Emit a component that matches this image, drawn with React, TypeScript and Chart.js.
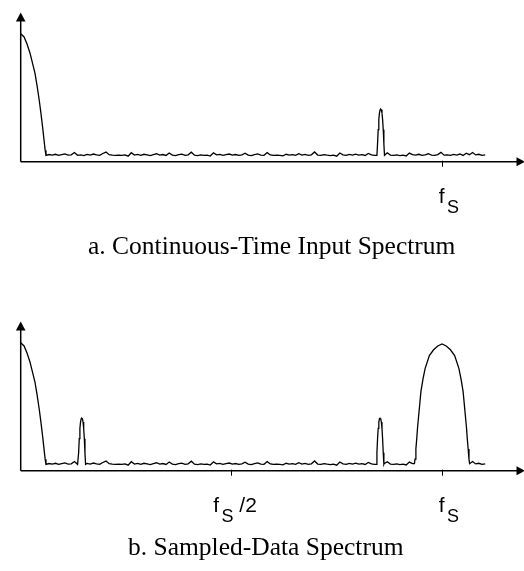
import React, { useEffect, useRef } from "react";
import { Chart, registerables } from "chart.js";
Chart.register(...registerables);

// ---------- data (frequency in units of fs, amplitude relative to main lobe) ----------
const X_MAX = 1.1946;
const Y_MAX = 1.162;

const LOBE_F = [0, 0.008, 0.015, 0.022, 0.028, 0.034, 0.039, 0.044, 0.048, 0.052, 0.055, 0.058, 0.06];
const LOBE_A = [1.0, 0.975, 0.92, 0.85, 0.77, 0.69, 0.59, 0.48, 0.38, 0.27, 0.18, 0.09, 0.055];

const HUMP_DF = [0, 0.01, 0.02, 0.03, 0.04, 0.045, 0.05, 0.054, 0.058, 0.06, 0.062, 0.064, 0.0655];
const HUMP_A = [0.99, 0.975, 0.945, 0.9, 0.8, 0.72, 0.62, 0.48, 0.34, 0.25, 0.17, 0.09, 0.055];

const PEAK_DF = [-0.009, -0.0075, -0.006, -0.0045, -0.003, -0.0015, 0, 0.0015, 0.003, 0.0045, 0.006, 0.0075, 0.009];
const PEAK_A = [0.05, 0.14, 0.25, 0.33, 0.38, 0.405, 0.41, 0.405, 0.38, 0.33, 0.25, 0.14, 0.05];

const TOP_PEAKS = [0.8545];
const BOTTOM_PEAKS = [0.145, 0.853];
const IMAGE_CENTERS = [1.0];

const NOISE_START = 0.06;
const NOISE_STEP = 0.0075;
const NOISE = [
  0.050, 0.056, 0.052, 0.058, 0.049, 0.055, 0.061, 0.051, 0.054, 0.072,
  0.050, 0.053, 0.047, 0.057, 0.052, 0.060, 0.054, 0.049, 0.064, 0.075,
  0.055, 0.051, 0.050, 0.052, 0.049, 0.053, 0.043, 0.070, 0.052, 0.057,
  0.050, 0.058, 0.053, 0.048, 0.055, 0.062, 0.051, 0.056, 0.049, 0.068,
  0.052, 0.047, 0.055, 0.059, 0.050, 0.054, 0.074, 0.051, 0.048, 0.053,
  0.049, 0.051, 0.044, 0.069, 0.053, 0.057, 0.050, 0.055, 0.060, 0.052,
  0.056, 0.049, 0.054, 0.066, 0.051, 0.048, 0.056, 0.061, 0.052, 0.050,
  0.071, 0.053, 0.049, 0.052, 0.050, 0.046, 0.058, 0.052, 0.055, 0.049,
  0.063, 0.051, 0.057, 0.050, 0.054, 0.076, 0.052, 0.049, 0.055, 0.051,
  0.048, 0.052, 0.043, 0.068, 0.054, 0.050, 0.057, 0.052, 0.059, 0.051,
  0.055, 0.049, 0.065, 0.053, 0.050, 0.056, 0.048, 0.054, 0.070, 0.052,
  0.050, 0.053, 0.047, 0.051, 0.045, 0.067, 0.055, 0.051, 0.058, 0.050,
  0.054, 0.062, 0.052, 0.049, 0.056, 0.073, 0.051, 0.054, 0.050, 0.057,
  0.052, 0.060, 0.049, 0.066, 0.055, 0.072, 0.053, 0.058, 0.050, 0.054,
];

const TOP_TICKS = [1];
const TOP_TICK_SUFFIX = [""];
const BOTTOM_TICKS = [0.5, 1];
const BOTTOM_TICK_SUFFIX = [" /2", ""];
const TICK_MAIN = "f";
const TICK_SUB = "S";

const TOP_CAPTION = "a. Continuous-Time Input Spectrum";
const BOTTOM_CAPTION = "b. Sampled-Data Spectrum";

// ---------- build series ----------
type Pt = { x: number; y: number };

function buildSeries(peaks: number[], images: number[]): Pt[] {
  const pts: Pt[] = [];
  LOBE_F.forEach((f, i) => pts.push({ x: f, y: LOBE_A[i] }));
  const excluded = (x: number) =>
    peaks.some((c) => Math.abs(x - c) <= 0.0095) ||
    images.some((c) => Math.abs(x - c) <= 0.066);
  NOISE.forEach((a, i) => {
    const x = NOISE_START + i * NOISE_STEP;
    if (i === 0 || !excluded(x)) pts.push({ x, y: a });
  });
  peaks.forEach((c) => PEAK_DF.forEach((d, i) => pts.push({ x: c + d, y: PEAK_A[i] })));
  images.forEach((c) => {
    HUMP_DF.forEach((f, i) => {
      pts.push({ x: c - f, y: HUMP_A[i] });
      if (f > 0) pts.push({ x: c + f, y: HUMP_A[i] });
    });
  });
  pts.sort((a, b) => a.x - b.x);
  return pts;
}

const decorPlugin = {
  id: "decor",
  afterDatasetsDraw(chart: any, _args: any, opts: any) {
    const { ctx, chartArea } = chart;
    const { left, right, top, bottom } = chartArea;
    const xs = chart.scales.x;
    ctx.save();
    ctx.strokeStyle = "#000";
    ctx.fillStyle = "#000";
    ctx.lineWidth = 1.5;
    // y axis
    ctx.beginPath();
    ctx.moveTo(left, bottom);
    ctx.lineTo(left, top + 6);
    ctx.stroke();
    ctx.beginPath();
    ctx.moveTo(left, top - 0.5);
    ctx.lineTo(left - 4.8, top + 8.5);
    ctx.lineTo(left + 4.8, top + 8.5);
    ctx.closePath();
    ctx.fill();
    // x axis
    ctx.beginPath();
    ctx.moveTo(left, bottom);
    ctx.lineTo(right - 6, bottom);
    ctx.stroke();
    ctx.beginPath();
    ctx.moveTo(right + 1, bottom);
    ctx.lineTo(right - 7.5, bottom - 4.5);
    ctx.lineTo(right - 7.5, bottom + 4.5);
    ctx.closePath();
    ctx.fill();
    // ticks + labels
    ctx.lineWidth = 1;
    (opts.ticks as number[]).forEach((v, i) => {
      const px = Math.round(xs.getPixelForValue(v)) + 0.5;
      ctx.beginPath();
      ctx.moveTo(px, bottom - 1);
      ctx.lineTo(px, bottom + 5);
      ctx.stroke();
      const suffix = opts.suffix[i] as string;
      const dx = suffix ? -18.3 : -3.7;
      ctx.textBaseline = "alphabetic";
      ctx.textAlign = "left";
      ctx.font = '21px "Liberation Sans", Arial, sans-serif';
      const fx = px + dx;
      ctx.fillText(TICK_MAIN, fx, bottom + 41.5);
      const sx = fx + 8.3;
      ctx.font = '18px "Liberation Sans", Arial, sans-serif';
      ctx.fillText(TICK_SUB, sx, bottom + 51.5);
      const sw = ctx.measureText(TICK_SUB).width;
      if (suffix) {
        ctx.font = '21px "Liberation Sans", Arial, sans-serif';
        ctx.fillText(suffix, sx + sw, bottom + 41.5);
      }
    });
    // caption
    ctx.font = '25.5px "Liberation Serif", "Times New Roman", serif';
    ctx.textAlign = "left";
    ctx.fillText(opts.caption, opts.captionX, bottom + opts.captionOffset);
    ctx.restore();
  },
};

function Panel(props: {
  height: number;
  top: number;
  peaks: number[];
  images: number[];
  ticks: number[];
  suffix: string[];
  caption: string;
  captionX: number;
  captionOffset: number;
}) {
  const ref = useRef<HTMLCanvasElement>(null);
  useEffect(() => {
    if (!ref.current) return;
    const chart = new Chart(ref.current, {
      type: "line",
      data: {
        datasets: [
          {
            data: buildSeries(props.peaks, props.images),
            borderColor: "#000",
            borderWidth: 1.3,
            pointRadius: 0,
            tension: 0,
            fill: false,
          },
        ],
      },
      options: {
        responsive: false,
        animation: false,
        events: [],
        layout: { padding: { top: 13, left: 20.7, right: 0, bottom: props.height - 161.7 } },
        scales: {
          x: { type: "linear", min: 0, max: X_MAX, display: false },
          y: { type: "linear", min: 0, max: Y_MAX, display: false },
        },
        plugins: {
          legend: { display: false },
          tooltip: { enabled: false },
          decor: {
            ticks: props.ticks,
            suffix: props.suffix,
            caption: props.caption,
            captionX: props.captionX,
            captionOffset: props.captionOffset,
          },
        } as any,
      },
      plugins: [decorPlugin],
    });
    return () => chart.destroy();
  }, []);
  return (
    <canvas
      ref={ref}
      width={524}
      height={props.height}
      style={{ position: "absolute", left: 0, top: props.top, width: 524, height: props.height }}
    />
  );
}

export default function App() {
  useEffect(() => {
    document.body.style.margin = "0";
    document.body.style.background = "#fff";
  }, []);
  return (
    <div style={{ position: "relative", width: 524, height: 571, background: "#fff", overflow: "hidden" }}>
      <Panel
        height={300}
        top={0}
        peaks={TOP_PEAKS}
        images={[]}
        ticks={TOP_TICKS}
        suffix={TOP_TICK_SUFFIX}
        caption={TOP_CAPTION}
        captionX={88}
        captionOffset={92.6}
      />
      <Panel
        height={262}
        top={309}
        peaks={BOTTOM_PEAKS}
        images={IMAGE_CENTERS}
        ticks={BOTTOM_TICKS}
        suffix={BOTTOM_TICK_SUFFIX}
        caption={BOTTOM_CAPTION}
        captionX={128}
        captionOffset={84.3}
      />
    </div>
  );
}
